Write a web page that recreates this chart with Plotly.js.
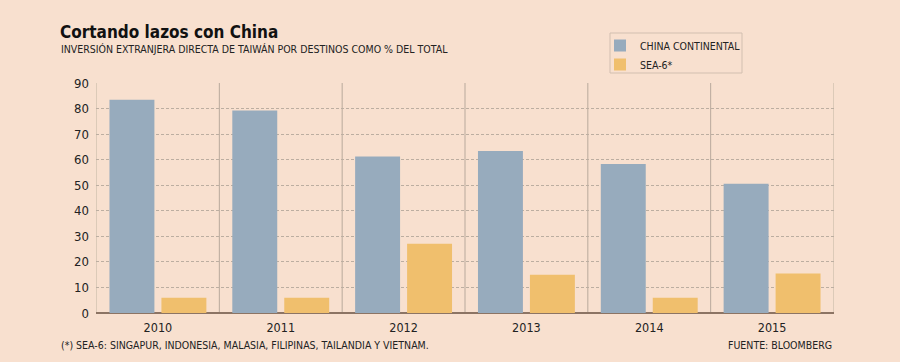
<!DOCTYPE html>
<html><head><meta charset="utf-8">
<script src="https://cdn.plot.ly/plotly-3.0.1.min.js"></script>
<style>html,body{margin:0;padding:0;background:#f8e0cf;}</style>
</head><body>
<div id="chart" style="width:900px;height:362px;"></div>
<script>
const years = ["2010","2011","2012","2013","2014","2015"];
const chinaValues = [83.4, 79.2, 61.2, 63.4, 58.3, 50.6];
const sea6Values = [6.0, 6.0, 27.1, 15.0, 6.0, 15.5];
const yTicks = [0,10,20,30,40,50,60,70,80,90];

const FONT = "Tahoma, 'DejaVu Sans Condensed', 'DejaVu Sans', sans-serif";
const BG = "#f8e0cf";

const traces = [
  {type:"bar", name:"CHINA CONTINENTAL", x:years, y:chinaValues,
   marker:{color:"#97abbd", line:{width:0}}, hoverinfo:"skip"},
  {type:"bar", name:"SEA-6*", x:years, y:sea6Values,
   marker:{color:"#f0bf6d", line:{width:0}}, hoverinfo:"skip"}
];

const plotW = 900-96-66, plotH = 362-83-49;
const px = v => (v-96)/plotW;
const py = v => (362-49-v)/plotH;

const shapes = [];
for (let i = 0; i <= years.length; i++) {
  shapes.push({type:"line", xref:"x", yref:"paper", x0:i-0.5, x1:i-0.5, y0:0, y1:1,
    line:{color: (i===0||i===years.length) ? "#dccab8" : "#b8a99c", width:1}, layer:"below"});
}
// legend frame
shapes.push({type:"rect", xref:"paper", yref:"paper", x0:px(610), x1:px(742), y0:py(73), y1:py(33),
  line:{color:"#d2bfb0", width:1}, fillcolor:"rgba(0,0,0,0)", layer:"above"});

const layout = {
  width:900, height:362,
  paper_bgcolor:BG, plot_bgcolor:BG,
  margin:{l:96, r:66, t:83, b:49},
  barmode:"group", bargap:0.154, bargroupgap:0.135,
  font:{family:FONT, color:"#222"},
  showlegend:true,
  legend:{x:px(600), y:py(31), xanchor:"left", yanchor:"top", orientation:"v",
    bgcolor:"rgba(0,0,0,0)", borderwidth:0,
    font:{family:FONT, size:10.5, color:"#222"}, itemwidth:30},
  xaxis:{type:"category", showgrid:false, zeroline:false, showline:false,
    ticks:"", tickfont:{family:FONT, size:12.5, color:"#222"}, ticklabelstandoff:5, fixedrange:true},
  yaxis:{range:[0,90], tickvals:yTicks, showgrid:true, gridcolor:"#bcaea1",
    griddash:"3px,2px", gridwidth:1, zeroline:true, zerolinecolor:"#8c7464", zerolinewidth:2.5,
    showline:false, ticks:"", tickfont:{family:FONT, size:13, color:"#222"},
    ticklabelstandoff:6, fixedrange:true},
  shapes:shapes,
  annotations:[
    {text:"<b>Cortando lazos con China</b>", xref:"paper", yref:"paper", x:px(58), y:py(44),
     xanchor:"left", yanchor:"bottom", showarrow:false, font:{family:FONT, size:17, color:"#111"}},
    {text:"INVERSIÓN EXTRANJERA DIRECTA DE TAIWÁN POR DESTINOS COMO % DEL TOTAL", xref:"paper", yref:"paper",
     x:px(59), y:py(57), xanchor:"left", yanchor:"bottom", showarrow:false, font:{family:FONT, size:10.5, color:"#222"}},
    {text:"(*) SEA-6: SINGAPUR, INDONESIA, MALASIA, FILIPINAS, TAILANDIA Y VIETNAM.", xref:"paper", yref:"paper",
     x:px(59), y:py(337), xanchor:"left", yanchor:"top", showarrow:false, font:{family:FONT, size:10.5, color:"#222"}},
    {text:"FUENTE: BLOOMBERG", xref:"paper", yref:"paper",
     x:px(834), y:py(337), xanchor:"right", yanchor:"top", showarrow:false, font:{family:FONT, size:10.5, color:"#222"}}
  ]
};

Plotly.newPlot("chart", traces, layout, {displayModeBar:false, staticPlot:true});
</script>
</body></html>
